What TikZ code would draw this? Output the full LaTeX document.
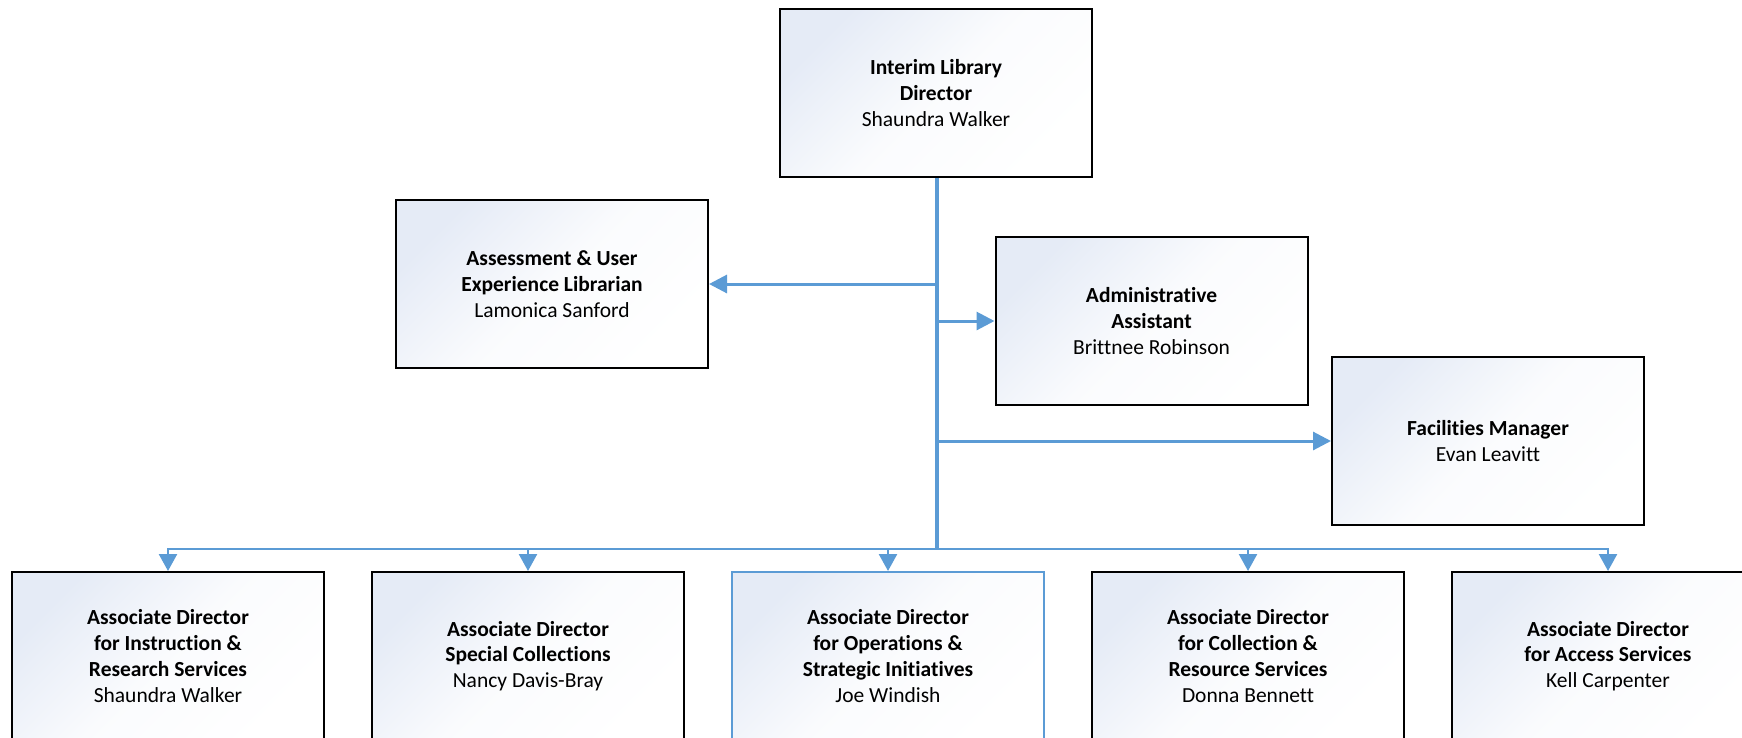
\documentclass[tikz,border=0pt]{standalone}
\usepackage{fontspec}
\setmainfont{Carlito}[Ligatures={NoCommon}]
\usetikzlibrary{arrows.meta}
\definecolor{linkblue}{RGB}{91,155,213}
\definecolor{gradtop}{RGB}{229,235,246}
\tikzset{
  orgbox/.style={draw=black, line width=2pt, minimum width=312pt, minimum height=168pt,
    align=center, inner sep=0pt, top color=gradtop, bottom color=white, middle color=white!82!gradtop,
    shading angle=45, font=\fontsize{21.5}{25.7}\selectfont},
  bluebox/.style={orgbox, draw=linkblue},
  trunk/.style={draw=linkblue, line width=4pt},
  link/.style={draw=linkblue, line width=3pt, -{Triangle[length=18pt,width=18pt]}},
  drop/.style={draw=linkblue, line width=2.5pt, -{Triangle[length=17pt,width=18pt]}}
}
\begin{document}
\begin{tikzpicture}[x=1pt,y=-1pt]
\useasboundingbox (0,0) rectangle (1742,737);
\clip (0,0) rectangle (1742,737);
\node[orgbox] (top) at (936,93) {\textbf{Interim Library}\\\textbf{Director}\\Shaundra Walker};
\node[orgbox] (assess) at (552,284) {\textbf{Assessment \& User}\\\textbf{Experience Librarian}\\Lamonica Sanford};
\node[orgbox] (admin) at (1151.5,321) {\textbf{Administrative}\\\textbf{Assistant}\\Brittnee Robinson};
\node[orgbox] (fac) at (1488,441) {\textbf{Facilities Manager}\\Evan Leavitt};
\node[orgbox] (b1) at (168,656) {\textbf{Associate Director}\\\textbf{for Instruction \&}\\\textbf{Research Services}\\Shaundra Walker};
\node[orgbox] (b2) at (528,656) {\textbf{Associate Director}\\\textbf{Special Collections}\\Nancy Davis-Bray};
\node[bluebox] (b3) at (888,656) {\textbf{Associate Director}\\\textbf{for Operations \&}\\\textbf{Strategic Initiatives}\\Joe Windish};
\node[orgbox] (b4) at (1248,656) {\textbf{Associate Director}\\\textbf{for Collection \&}\\\textbf{Resource Services}\\Donna Bennett};
\node[orgbox] (b5) at (1608,656) {\textbf{Associate Director}\\\textbf{for Access Services}\\Kell Carpenter};
\coordinate (jb) at (937,549);
\coordinate (ja) at (937,284);
\coordinate (jd) at (937,321);
\coordinate (jf) at (937,441);
\draw[trunk] (top.south -| jb) -- (jb);
\draw[link] (ja) -- (assess.east);
\draw[link] (jd) -- (admin.west);
\draw[link] (jf) -- (fac.west);
\foreach \b in {b1,b2,b3,b4,b5}{
  \draw[drop] (jb) -| (\b.north);
}
\end{tikzpicture}
\end{document}
